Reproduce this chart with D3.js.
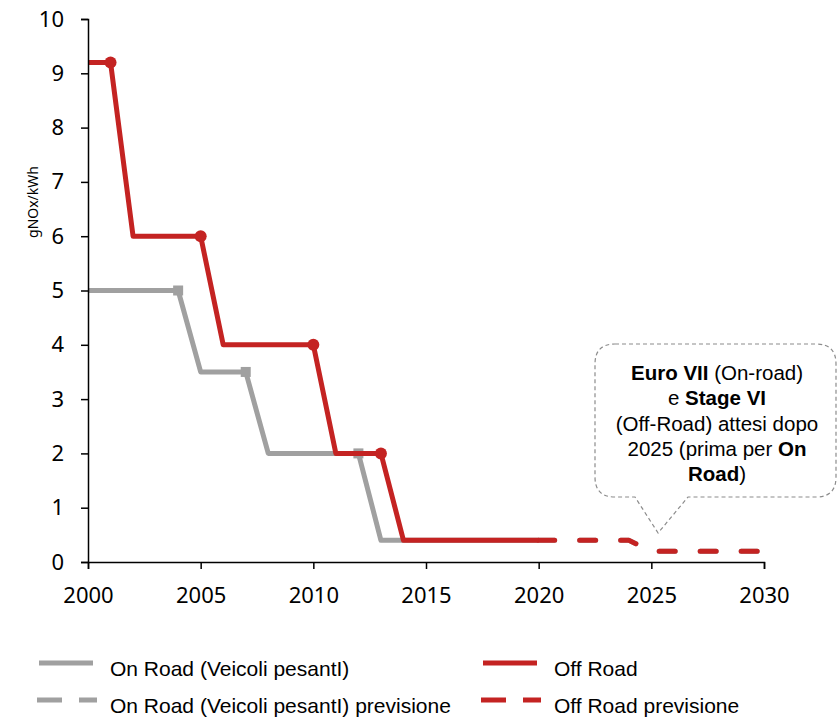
<!DOCTYPE html>
<html>
<head>
<meta charset="utf-8">
<script src="https://cdn.jsdelivr.net/npm/d3@7"></script>
<style>
  body { margin: 0; background: #fff; }
  svg { display: block; }
</style>
</head>
<body>
<svg></svg>
<script>
// Data
const onRoadYears = [2000, 2004, 2005, 2007, 2008, 2012, 2013, 2020];
const onRoadValues = [5, 5, 3.5, 3.5, 2, 2, 0.4, 0.4];
const onRoadMarkerYears = [2004, 2007, 2012];

const onRoadForecastYears = [2020, 2024, 2025, 2030];
const onRoadForecastValues = [0.4, 0.4, 0.2, 0.2];

const offRoadYears = [2000, 2001, 2002, 2005, 2006, 2010, 2011, 2013, 2014, 2020];
const offRoadValues = [9.2, 9.2, 6, 6, 4, 4, 2, 2, 0.4, 0.4];
const offRoadMarkerYears = [2001, 2005, 2010, 2013];

const offRoadForecastYears = [2020, 2024, 2025, 2030];
const offRoadForecastValues = [0.4, 0.4, 0.2, 0.2];

const xTicks = [2000, 2005, 2010, 2015, 2020, 2025, 2030];
const yTicks = [0, 1, 2, 3, 4, 5, 6, 7, 8, 9, 10];

const legendLabels = [
    'On Road (Veicoli pesantI)',
    'On Road (Veicoli pesantI) previsione',
    'Off Road',
    'Off Road previsione'
];

const width = 838, height = 717;
const gray = '#a0a0a0', red = '#c42322';
const textFont = '"Liberation Sans", Arial, sans-serif';
const tickFont = '"Noto Sans", sans-serif';

const svg = d3.select('svg')
    .attr('width', width)
    .attr('height', height);

const x = d3.scaleLinear().domain([2000, 2030]).range([88, 764]);
const y = d3.scaleLinear().domain([0, 10]).range([562, 19]);

const zip = (xs, ys) => xs.map((d, i) => [d, ys[i]]);
const line = d3.line().x(d => x(d[0])).y(d => y(d[1]));

const g = svg.append('g');

// Series: gray first, red on top
function drawSeries(data, color, dashed) {
    g.append('path')
        .attr('d', line(data))
        .attr('fill', 'none')
        .attr('stroke', color)
        .attr('stroke-width', 5)
        .attr('stroke-linejoin', 'round')
        .attr('stroke-dasharray', dashed ? '16,25' : null)
        .attr('stroke-linecap', dashed ? 'round' : 'butt');
}

drawSeries(zip(onRoadForecastYears, onRoadForecastValues), gray, true);
drawSeries(zip(onRoadYears, onRoadValues), gray, false);

const onRoadLookup = new Map(zip(onRoadYears, onRoadValues));
g.selectAll('rect.m')
    .data(onRoadMarkerYears)
    .enter().append('rect')
    .attr('x', d => x(d) - 5)
    .attr('y', d => y(onRoadLookup.get(d)) - 5)
    .attr('width', 10)
    .attr('height', 10)
    .attr('fill', gray);

drawSeries(zip(offRoadForecastYears, offRoadForecastValues), red, true);
drawSeries(zip(offRoadYears, offRoadValues), red, false);

const offRoadLookup = new Map(zip(offRoadYears, offRoadValues));
g.selectAll('circle.m')
    .data(offRoadMarkerYears)
    .enter().append('circle')
    .attr('cx', d => x(d))
    .attr('cy', d => y(offRoadLookup.get(d)))
    .attr('r', 6)
    .attr('fill', red);

// Axes
const xAxis = svg.append('g')
    .attr('transform', `translate(0,${y(0)})`)
    .call(d3.axisBottom(x).tickValues(xTicks).tickFormat(d3.format('d')).tickSizeOuter(0).tickSize(7).tickPadding(18));
xAxis.select('.domain').attr('stroke', '#000').attr('stroke-width', 1.5);
xAxis.selectAll('.tick line').attr('stroke-width', 1.5);
xAxis.selectAll('text').style('font-family', tickFont).style('font-size', '22px').attr('fill', '#000');

const yAxis = svg.append('g')
    .attr('transform', `translate(${x(2000)},0)`)
    .call(d3.axisLeft(y).tickValues(yTicks).tickSizeOuter(0).tickSize(7).tickPadding(17));
yAxis.select('.domain').attr('stroke', '#000').attr('stroke-width', 1.5);
yAxis.selectAll('.tick line').attr('stroke-width', 1.5);
yAxis.selectAll('text').style('font-family', tickFont).style('font-size', '22px').attr('fill', '#000');

svg.append('text')
    .attr('transform', 'translate(38,202) rotate(-90)')
    .attr('text-anchor', 'middle')
    .style('font-family', tickFont)
    .style('font-size', '14px')
    .text('gNOx/kWh');

// Callout box
const bx0 = 595, by0 = 344, bx1 = 836, by1 = 497, r = 20;
const tipX = x(2025.3), tipY = 533;
const callout = `M${bx0 + r},${by0} L${bx1 - r},${by0} Q${bx1},${by0} ${bx1},${by0 + r}
 L${bx1},${by1 - r} Q${bx1},${by1} ${bx1 - r},${by1}
 L688,${by1} L${tipX},${tipY} L635,${by1}
 L${bx0 + r},${by1} Q${bx0},${by1} ${bx0},${by1 - r}
 L${bx0},${by0 + r} Q${bx0},${by0} ${bx0 + r},${by0} Z`;
svg.append('path')
    .attr('d', callout)
    .attr('fill', '#fff')
    .attr('stroke', '#8c8c8c')
    .attr('stroke-width', 1.2)
    .attr('stroke-dasharray', '4,3');

const calloutLines = [
    [['Euro VII', true], [' (On-road)', false]],
    [['e ', false], ['Stage VI', true]],
    [['(Off-Road) attesi dopo', false]],
    [['2025 (prima per ', false], ['On', true]],
    [['Road', true], [')', false]]
];
const calloutText = svg.append('text')
    .attr('text-anchor', 'middle')
    .style('font-family', textFont)
    .style('font-size', '20.5px')
    .attr('fill', '#000');
calloutLines.forEach((parts, i) => {
    parts.forEach(([t, bold], j) => {
        const ts = calloutText.append('tspan').text(t)
            .style('font-weight', bold ? 'bold' : 'normal');
        if (j === 0) ts.attr('x', 717).attr('y', 380 + i * 25.3);
    });
});

// Legend
const legendItems = [
    { label: legendLabels[0], color: gray, dashed: false, lx: 38, ly: 663 },
    { label: legendLabels[1], color: gray, dashed: true, lx: 38, ly: 700 },
    { label: legendLabels[2], color: red, dashed: false, lx: 482, ly: 663 },
    { label: legendLabels[3], color: red, dashed: true, lx: 482, ly: 700 }
];
const legend = svg.append('g');
legendItems.forEach(d => {
    legend.append('line')
        .attr('x1', d.dashed ? d.lx - 1 : d.lx + 1)
        .attr('x2', d.dashed ? d.lx + 59 : d.lx + 55)
        .attr('y1', d.ly).attr('y2', d.ly)
        .attr('stroke', d.color)
        .attr('stroke-width', 5)
        .attr('stroke-dasharray', d.dashed ? '25,17' : null);
    legend.append('text')
        .attr('x', d.lx + 72)
        .attr('y', d.ly + 13)
        .style('font-family', textFont)
        .style('font-size', '21px')
        .attr('fill', '#000')
        .text(d.label);
});
</script>
</body>
</html>
